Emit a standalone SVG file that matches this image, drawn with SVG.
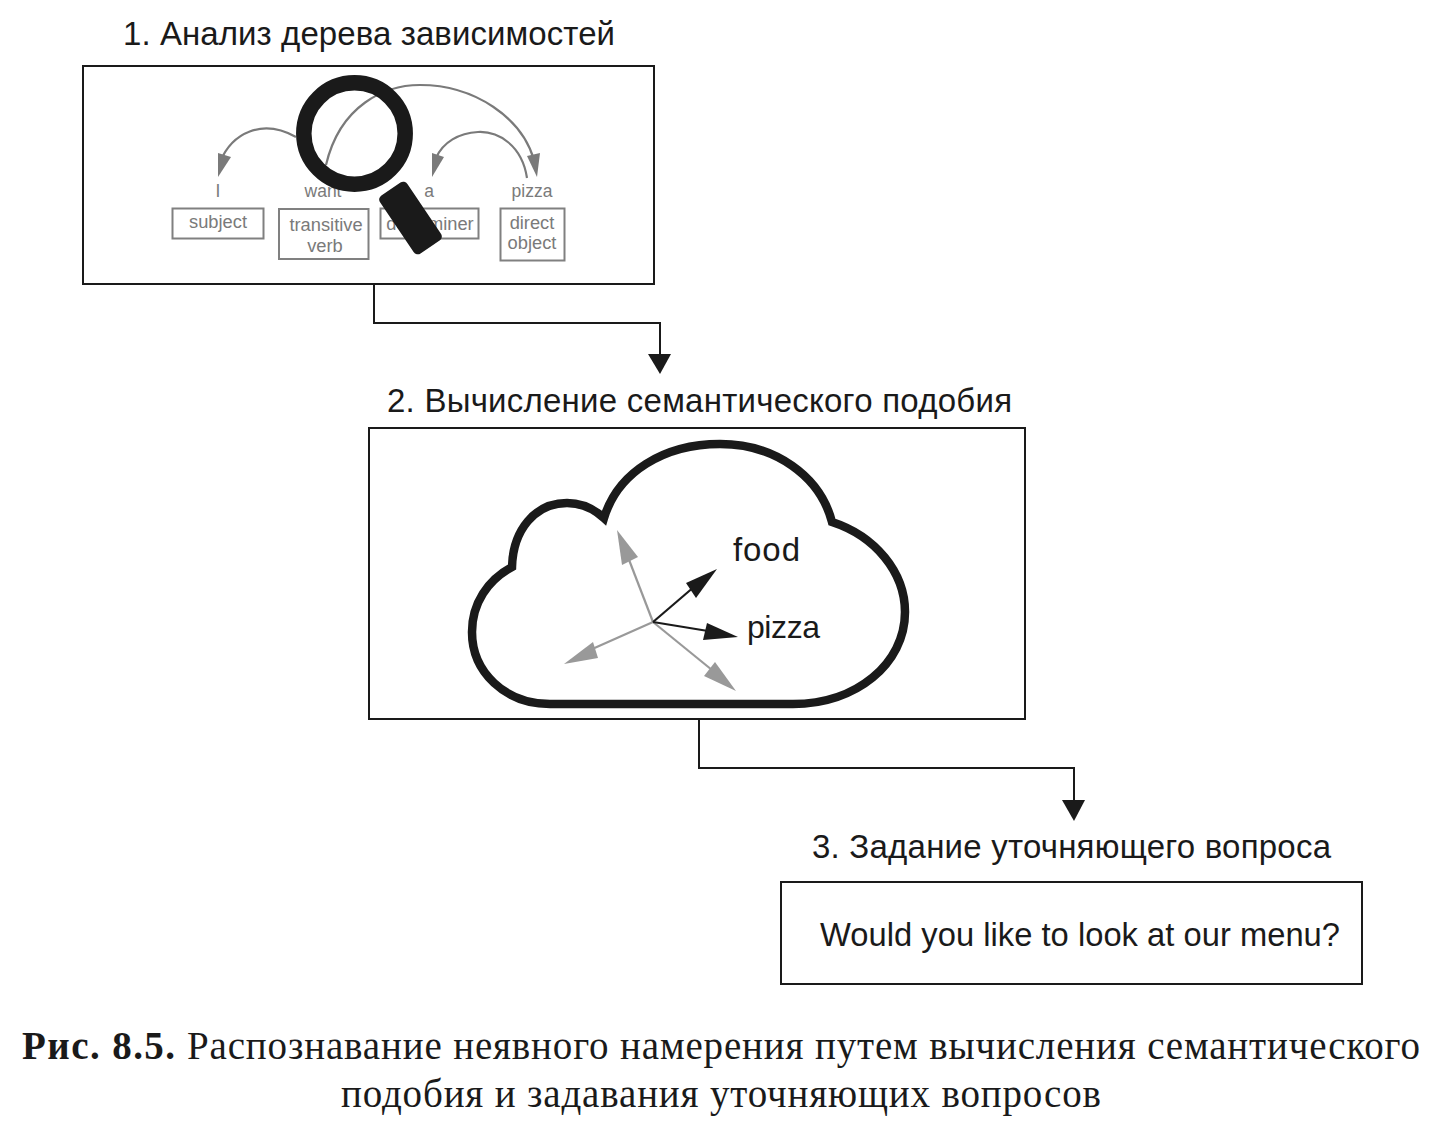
<svg xmlns="http://www.w3.org/2000/svg" width="1448" height="1130" viewBox="0 0 1448 1130">
<style>
text{font-family:"Liberation Sans",Arial,sans-serif;fill:#1a1a1a}
.t{font-size:33px}
.box{fill:none;stroke:#1a1a1a;stroke-width:2}
.g{fill:#7a7a7a;font-size:17.500px;text-anchor:middle}
.s{font-size:18.300px}
.lb{fill:#fff;stroke:#808080;stroke-width:2}
.arc{fill:none;stroke:#7a7a7a;stroke-width:2.200}
.cap{font-family:"Liberation Serif","Times New Roman",serif;font-size:39px}
.v{stroke:#999;stroke-width:2.200}
.k{stroke:#1a1a1a;stroke-width:2.200}
</style>
<rect width="1448" height="1130" fill="#fff"/>
<g id="connectors">
<path class="box" d="M374 284V323H660V356"/><path d="M648 354H671L660 374Z" fill="#1a1a1a"/>
<path class="box" d="M699 720V768H1074V802"/><path d="M1062 800H1085L1074 821Z" fill="#1a1a1a"/>
</g>
<g id="node-1">
<text class="t" x="123" y="45" textLength="492">1. Анализ дерева зависимостей</text>
<rect class="box" x="83" y="66" width="571" height="218"/>
<path class="arc" d="M296 137C262 118 232 133 220 162"/><path d="M218 177L218 153L231 157Z" fill="#7a7a7a"/>
<path class="arc" d="M326 165C340 105 385 85 420 85C475 85 522 118 534 160"/><path d="M537 177L527 156L540 153Z" fill="#7a7a7a"/>
<path class="arc" d="M527 178C522 145 498 131 478 132C459 133 443 142 436 158"/><path d="M432 177L432 153L444 157Z" fill="#7a7a7a"/>
<text class="g" x="218" y="197">I</text><text class="g" x="323" y="197">want</text><text class="g" x="429" y="197">a</text><text class="g" x="532" y="197">pizza</text>
<rect class="lb" x="172.500" y="208.500" width="91" height="30"/><text class="g s" x="218" y="228">subject</text>
<rect class="lb" x="279" y="209" width="89.500" height="50"/><text class="g s" x="326" y="231">transitive</text><text class="g s" x="325" y="252">verb</text>
<rect class="lb" x="380.500" y="208.500" width="98" height="30"/><text class="g s" x="430" y="230">determiner</text>
<rect class="lb" x="500.500" y="208.500" width="64" height="52"/><text class="g s" x="532" y="229">direct</text><text class="g s" x="532" y="249">object</text>
<circle cx="354.500" cy="133.500" r="50.700" fill="none" stroke="#1a1a1a" stroke-width="15.500"/>
<rect x="394" y="183" width="33" height="70" rx="5" fill="#1a1a1a" transform="rotate(-34 410.500 218)"/>
</g>
<g id="node-2">
<text class="t" x="387" y="412" textLength="625">2. Вычисление семантического подобия</text>
<rect class="box" x="369" y="428" width="656" height="291"/>
<path d="M604 518C618 472 664 444 720 444C775 444 820 476 832 522C875 536 905 572 905 612C905 664 856 704 793 704H550C505 704 472 672 472 632C472 603 488 580 512 567C513 530 535 503 567 503C581 503 594 509 604 518Z" fill="#fff" stroke="#1a1a1a" stroke-width="8.500"/>
<line class="v" x1="653" y1="622" x2="626" y2="552"/><path d="M617 530L638 557L622 565Z" fill="#999"/>
<line class="v" x1="653" y1="622" x2="590" y2="650"/><path d="M564 664L593 642L598 658Z" fill="#999"/>
<line class="v" x1="653" y1="622" x2="712" y2="670"/><path d="M736 691L704 676L715 662Z" fill="#999"/>
<line class="k" x1="653" y1="622" x2="695" y2="586"/><path d="M717 569L696 598L686 583Z" fill="#1a1a1a"/>
<line class="k" x1="653" y1="622" x2="708" y2="631"/><path d="M738 637L703 640L707 623Z" fill="#1a1a1a"/>
<text x="733" y="561" font-size="33" textLength="67">food</text>
<text x="747" y="638" font-size="32" textLength="73">pizza</text>
</g>
<g id="node-3">
<text class="t" x="812" y="858" textLength="519">3. Задание уточняющего вопроса</text>
<rect class="box" x="781" y="882" width="581" height="102"/>
<text x="820" y="946" font-size="32.700" textLength="520">Would you like to look at our menu?</text>
</g>
<g id="caption">
<text class="cap" y="1059"><tspan x="22" font-weight="bold" textLength="153">Рис. 8.5.</tspan><tspan x="187" textLength="1233">Распознавание неявного намерения путем вычисления семантического</tspan></text>
<text class="cap" x="341" y="1107" textLength="760">подобия и задавания уточняющих вопросов</text>
</g>
</svg>
